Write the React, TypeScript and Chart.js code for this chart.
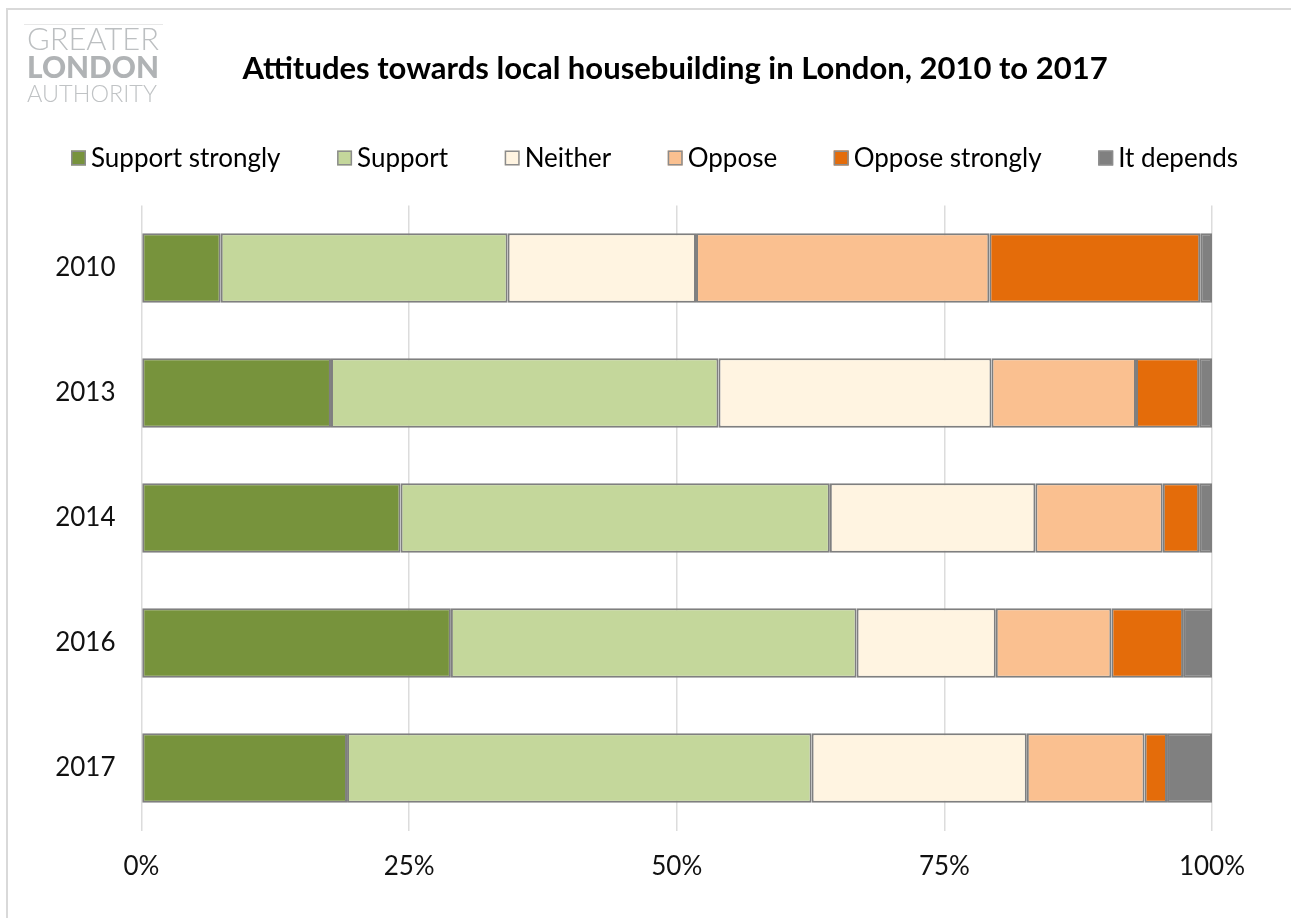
import React, { useEffect, useRef } from "react";
import { Chart, registerables } from "chart.js";

Chart.register(...registerables);

const years = ["2010", "2013", "2014", "2016", "2017"];
const seriesNames = ["Support strongly", "Support", "Neither", "Oppose", "Oppose strongly", "It depends"];
const supportStrongly = [7.4, 17.7, 24.2, 28.9, 19.2];
const support = [26.8, 36.2, 40.1, 37.9, 43.4];
const neither = [17.6, 25.5, 19.2, 13.0, 20.1];
const oppose = [27.4, 13.5, 11.9, 10.8, 11.0];
const opposeStrongly = [19.7, 5.9, 3.4, 6.7, 2.1];
const itDepends = [1.1, 1.2, 1.2, 2.7, 4.2];
const seriesColors = ["#77933C", "#C4D79B", "#FFF4E1", "#FAC090", "#E46C0A", "#808080"];
const xTickValues = [0, 25, 50, 75, 100];
const titleText = "Attitudes towards local housebuilding in London, 2010 to 2017";
const logoLines = ["GREATER", "LONDON", "AUTHORITY"];

const FONT = "Lato, 'Noto Sans', sans-serif";

function fitSize(ctx: CanvasRenderingContext2D, text: string, weight: string, target: number) {
  ctx.font = `${weight} 100px ${FONT}`;
  const w = ctx.measureText(text).width;
  return (100 * target) / w;
}

const decorPlugin = {
  id: "decor",
  beforeDraw(chart: any) {
    const ctx: CanvasRenderingContext2D = chart.ctx;
    ctx.save();
    ctx.fillStyle = "#ffffff";
    ctx.fillRect(0, 0, chart.width, chart.height);
    ctx.strokeStyle = "#d9d9d9";
    ctx.lineWidth = 2;
    ctx.beginPath();
    ctx.moveTo(7, chart.height);
    ctx.lineTo(7, 9);
    ctx.lineTo(chart.width, 9);
    ctx.stroke();
    ctx.restore();
  },
  afterDraw(chart: any) {
    const ctx: CanvasRenderingContext2D = chart.ctx;
    ctx.save();
    // logo
    ctx.strokeStyle = "#e8e8e8";
    ctx.lineWidth = 1;
    ctx.beginPath();
    ctx.moveTo(24, 24.5);
    ctx.lineTo(163, 24.5);
    ctx.stroke();
    const logoSpec = [
      { text: logoLines[0], weight: "300", w: 132, base: 50, color: "#bcbfc1" },
      { text: logoLines[1], weight: "900", w: 132, base: 78, color: "#b0b3b5" },
      { text: logoLines[2], weight: "300", w: 130, base: 102, color: "#c0c3c5" },
    ];
    ctx.textAlign = "left";
    ctx.textBaseline = "alphabetic";
    for (const s of logoSpec) {
      const size = fitSize(ctx, s.text, s.weight, s.w);
      ctx.font = `${s.weight} ${size}px ${FONT}`;
      ctx.fillStyle = s.color;
      ctx.fillText(s.text, 27, s.base);
    }
    // title
    const tSize = Math.min(31, fitSize(ctx, titleText, "bold", 875));
    ctx.font = `bold ${tSize}px ${FONT}`;
    ctx.fillStyle = "#000000";
    ctx.textAlign = "center";
    ctx.fillText(titleText, 675, 79);
    // legend
    ctx.font = `26px ${FONT}`;
    ctx.textAlign = "left";
    ctx.textBaseline = "middle";
    const box = 15;
    const gapText = 5;
    const widths = seriesNames.map((n) => ctx.measureText(n).width);
    const itemsW = widths.reduce((a, w) => a + box + gapText + w, 0);
    const left = 71;
    const right = 1238;
    const gap = (right - left - itemsW) / (seriesNames.length - 1);
    let x = left;
    const cy = 158;
    seriesNames.forEach((n, i) => {
      ctx.fillStyle = seriesColors[i];
      ctx.fillRect(x, cy - box / 2, box, box);
      ctx.strokeStyle = "#8c8c8c";
      ctx.lineWidth = 1.5;
      ctx.strokeRect(x + 0.75, cy - box / 2 + 0.75, box - 1.5, box - 1.5);
      ctx.fillStyle = "#000000";
      ctx.fillText(n, x + box + gapText, cy + 1);
      x += box + gapText + widths[i] + gap;
    });
    ctx.restore();
  },
};

export default function App() {
  const canvasRef = useRef<HTMLCanvasElement | null>(null);

  useEffect(() => {
    const canvas = canvasRef.current;
    if (!canvas) return;
    const seriesData = [supportStrongly, support, neither, oppose, opposeStrongly, itDepends];
    const chart = new Chart(canvas, {
      type: "bar",
      data: {
        labels: years,
        datasets: seriesNames.map((name, i) => ({
          label: name,
          data: seriesData[i],
          backgroundColor: seriesColors[i],
          borderColor: "#7f7f7f",
          borderWidth: 2,
          borderSkipped: false,
          categoryPercentage: 0.555,
          barPercentage: 1,
        })),
      },
      options: {
        indexAxis: "y",
        animation: false,
        responsive: false,
        layout: { padding: { top: 205.5, left: 0, right: 79, bottom: 0 } },
        plugins: {
          legend: { display: false },
          title: { display: false },
          tooltip: { enabled: false },
        },
        scales: {
          x: {
            stacked: true,
            min: 0,
            max: 100,
            afterFit: (scale: any) => {
              scale.height = 87.5;
            },
            afterBuildTicks: (scale: any) => {
              scale.ticks = xTickValues.map((v) => ({ value: v }));
            },
            grid: { color: "#dcdcdc", lineWidth: 1.5, drawTicks: false },
            border: { display: false },
            ticks: {
              padding: 21,
              color: "#111111",
              font: { family: FONT, size: 26 },
              callback: (v: any) => `${v}%`,
            },
          },
          y: {
            stacked: true,
            afterFit: (scale: any) => {
              scale.width = 141.5;
            },
            grid: { display: false, drawTicks: false },
            border: { display: false },
            ticks: {
              padding: 26,
              color: "#111111",
              font: { family: FONT, size: 26 },
            },
          },
        },
      },
      plugins: [decorPlugin],
    });
    return () => chart.destroy();
  }, []);

  return (
    <div style={{ position: "absolute", left: 0, top: 0, width: 1291, height: 918, background: "#fff" }}>
      <canvas ref={canvasRef} width={1291} height={918} style={{ display: "block" }} />
    </div>
  );
}
